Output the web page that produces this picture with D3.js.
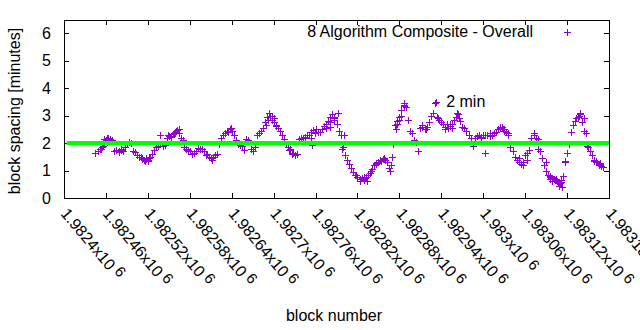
<!DOCTYPE html>
<html><head><meta charset="utf-8">
<script src="https://cdn.jsdelivr.net/npm/d3@7/dist/d3.min.js"></script>
<style>
body{margin:0;background:#fff}
svg{display:block}
text{font-family:"Liberation Sans",Arial,sans-serif;fill:#000}
</style>
</head><body>
<svg id="c" width="640" height="330"></svg>
<script>
// ---------------- data ----------------
const seriesName = "8 Algorithm Composite - Overall";
const refLabel = "2 min";
const refValue = 2;
const refLabelBlock = 1982947;
const refLabelValue = 3.3;
const blockBase = 1982400;
const xDomain = [1982400, 1983180];
const yDomain = [0, 6.5];
const xTicks = [1982400,1982460,1982520,1982580,1982640,1982700,1982760,1982820,1982880,1982940,1983000,1983060,1983120,1983180];
const yTicks = [0,1,2,3,4,5,6];

// block offsets from blockBase
const blockOffsets = [
45,48,51,54,57,60,63,66,69,72,
75,78,81,84,87,90,93,96,99,102,
105,108,111,114,117,120,123,126,129,132,
135,138,141,144,147,150,153,156,159,162,
165,168,171,174,177,180,183,186,189,192,
195,198,201,204,207,210,213,216,219,222,
225,228,231,234,237,240,243,246,249,252,
255,258,261,264,267,270,273,276,279,282,
285,288,291,294,297,300,303,306,309,312,
315,318,321,324,327,330,333,336,339,342,
345,348,351,354,357,360,363,366,369,372,
375,378,381,384,387,390,393,396,399,402,
405,408,411,414,417,420,423,426,429,432,
435,438,441,444,447,450,453,456,459,462,
465,468,471,474,477,480,483,486,489,492,
495,498,501,504,507,510,513,516,519,522,
525,528,531,534,537,540,543,546,549,552,
555,558,561,564,567,570,573,576,579,582,
585,588,591,594,597,600,603,606,609,612,
615,618,621,624,627,630,633,636,639,642,
645,648,651,654,657,660,663,666,669,672,
675,678,681,684,687,690,693,696,699,702,
705,708,711,714,717,720,723,726,729,732,
735,738,741,744,747,750,753,756,759,762,
765,768,771
];
// block spacing [minutes]
const spacing = [
1.65,1.72,1.78,1.85,2.05,2.12,2.18,2.15,2.12,1.72,
1.75,1.70,1.78,1.72,1.85,1.98,2.05,2.00,1.72,1.66,
1.55,1.50,1.45,1.38,1.42,1.40,1.48,1.62,1.75,1.85,
1.90,1.95,1.88,1.92,2.20,2.25,2.22,2.32,2.40,2.48,
2.35,2.20,2.10,1.80,1.75,1.70,1.62,1.65,1.72,1.82,
1.78,1.80,1.72,1.60,1.50,1.45,1.48,1.55,1.62,1.95,
2.20,2.30,2.38,2.42,2.50,2.45,2.30,2.10,1.95,1.92,
1.90,1.75,2.15,2.12,1.78,1.72,1.85,2.30,2.38,2.45,
2.55,2.75,2.95,3.10,2.85,2.75,2.62,2.55,2.45,2.30,
2.15,1.95,1.85,1.78,1.62,1.55,1.60,2.15,2.20,2.18,
2.22,2.28,2.30,2.42,2.48,2.50,2.42,2.40,2.50,2.62,
2.70,2.80,2.95,3.05,2.90,2.70,2.45,2.30,1.85,1.55,
1.40,1.25,1.10,0.95,0.82,0.75,0.70,0.72,0.65,0.75,
0.82,0.90,1.05,1.20,1.28,1.32,1.35,1.42,1.38,1.30,
1.10,1.20,1.95,2.65,2.80,2.95,3.20,3.45,3.30,2.85,
2.45,2.35,2.10,2.05,1.72,2.55,2.60,2.52,2.60,2.75,
3.00,3.10,3.45,2.95,2.85,2.78,2.70,2.60,2.55,2.62,
2.68,2.85,2.95,3.05,2.80,2.60,2.55,2.45,2.30,2.20,
1.90,2.20,2.25,2.30,2.22,2.30,1.65,2.30,2.35,2.30,
2.35,2.42,2.50,2.55,2.58,2.45,2.40,2.30,1.85,1.70,
1.50,1.40,1.30,1.25,1.30,1.55,1.65,1.75,2.20,2.30,
2.20,1.80,1.70,1.45,1.20,1.00,0.85,0.75,0.72,0.65,
0.62,0.45,0.60,0.80,1.35,1.65,1.95,2.40,2.65,2.80,
2.95,3.05,2.75,2.45,2.35,1.85,1.70,1.55,1.40,1.30,
1.25,1.18,1.12
];
// additional blocks in the denser clusters
const extraOffsets = [53,56,61,66,79,82,110,116,122,137,157,161,164,172,178,203,212,230,239,
292,298,304,322,328,353,355,359,380,386,392,398,401,418,424,430,440,446,452,458,467,470,
476,482,487,493,512,518,533,546,552,563,566,597,603,609,624,630,636,651,657,663,673,679,
690,696,701,707,712,713,717,738,741,744,748,759,765,768,
57,62,112,117,120,149,159,233,289,295,300,375,381,387,429,433,475,479,486,535,548,555,628,
695,699,704,710,733,737,762,767];
const extraSpacing = [1.80,1.90,2.20,2.10,1.68,1.75,1.50,1.35,1.45,2.30,2.35,2.45,2.50,1.85,1.70,1.55,1.40,2.35,2.55,
2.85,3.00,2.65,1.75,1.65,2.20,1.92,2.38,2.60,2.85,3.10,1.80,2.30,0.85,0.62,0.68,1.00,1.25,1.40,1.45,1.00,1.50,
2.70,3.00,3.35,2.84,2.65,2.50,3.50,2.50,2.70,3.10,2.90,2.20,2.30,2.25,2.60,2.50,2.35,1.45,1.20,1.40,2.35,2.15,
1.30,0.80,0.70,0.55,0.65,0.40,1.30,3.10,2.77,2.90,1.90,1.35,1.20,1.15,
2.15,2.05,1.42,1.45,1.33,2.30,2.35,2.45,2.65,3.00,2.90,2.55,2.75,2.95,0.78,0.62,2.50,2.85,3.38,2.90,2.70,2.55,2.50,
0.70,0.62,0.70,0.55,2.90,3.00,1.35,1.28];

// ---------------- chart ----------------
const L = 64, R = 609, T = 19.5, B = 198;
const svg = d3.select("#c");
const x = d3.scaleLinear().domain(xDomain).range([L, R]);
const y = d3.scaleLinear().domain(yDomain).range([B, T]);
const purple = "#9400d3";

const points = blockOffsets.map((o,i)=>({b: blockBase+o, v: spacing[i]}))
  .concat(extraOffsets.map((o,i)=>({b: blockBase+o, v: extraSpacing[i]})));

// ticks (inward, mirrored)
const tk = svg.append("g").attr("stroke","#000").attr("stroke-width",1).attr("shape-rendering","crispEdges");
xTicks.forEach(t=>{
  const px = Math.round(x(t))+0.5;
  tk.append("line").attr("x1",px).attr("x2",px).attr("y1",B).attr("y2",B-5);
  tk.append("line").attr("x1",px).attr("x2",px).attr("y1",T).attr("y2",T+5);
});
yTicks.forEach(t=>{
  const py = Math.round(y(t))+0.5;
  tk.append("line").attr("x1",L).attr("x2",L+5).attr("y1",py).attr("y2",py);
  tk.append("line").attr("x1",R).attr("x2",R-5).attr("y1",py).attr("y2",py);
});

// y tick labels
svg.append("g").selectAll("text").data(yTicks).join("text")
  .attr("x",51).attr("y",d=>y(d)+5.8).attr("text-anchor","end")
  .attr("font-size",16).text(d=>d);

// x tick labels rotated
const xl = svg.append("g").selectAll("g").data(xTicks).join("g")
  .attr("transform",d=>`translate(${x(d)-4},${214}) rotate(50)`);
const xt = xl.append("text").attr("font-size",16).attr("text-anchor","start");
xt.append("tspan").text(d=>String(+(d/1e6).toFixed(5))+"x10");
xt.append("tspan").attr("dx",4).attr("dy",-4).attr("font-size",15).text("6");

// points
svg.append("g").attr("stroke",purple).attr("stroke-width",1).attr("fill","none").attr("shape-rendering","crispEdges")
  .selectAll("path").data(points).join("path")
  .attr("transform",d=>`translate(${Math.round(x(d.b))+0.5},${Math.round(y(d.v))+0.5})`)
  .attr("d","M-3.5,0H3.5M0,-3.5V3.5");

// reference line at 2 minutes
svg.append("line").attr("x1",L+2.5).attr("x2",R).attr("y1",y(refValue)).attr("y2",y(refValue))
  .attr("stroke","#00ff00").attr("stroke-width",4);

// frame
svg.append("rect").attr("x",L+0.5).attr("y",Math.round(T)+0.5).attr("width",R-L).attr("height",B-Math.round(T))
  .attr("fill","none").attr("stroke","#000").attr("stroke-width",1).attr("shape-rendering","crispEdges");

// reference label
svg.append("text").attr("x",x(refLabelBlock)).attr("y",y(refLabelValue)).attr("font-size",16).text(refLabel);

// legend
svg.append("text").attr("x",533).attr("y",37).attr("text-anchor","end").attr("font-size",16).text(seriesName);
svg.append("path").attr("transform","translate(567.5,32.5)").attr("d","M-3.5,0H3.5M0,-3.5V3.5")
  .attr("stroke",purple).attr("stroke-width",1).attr("shape-rendering","crispEdges");

// axis titles
svg.append("text").attr("transform","translate(20,111) rotate(-90)").attr("text-anchor","middle")
  .attr("font-size",16).text("block spacing [minutes]");
svg.append("text").attr("x",334).attr("y",321).attr("text-anchor","middle").attr("font-size",16).text("block number");
</script>
</body></html>
